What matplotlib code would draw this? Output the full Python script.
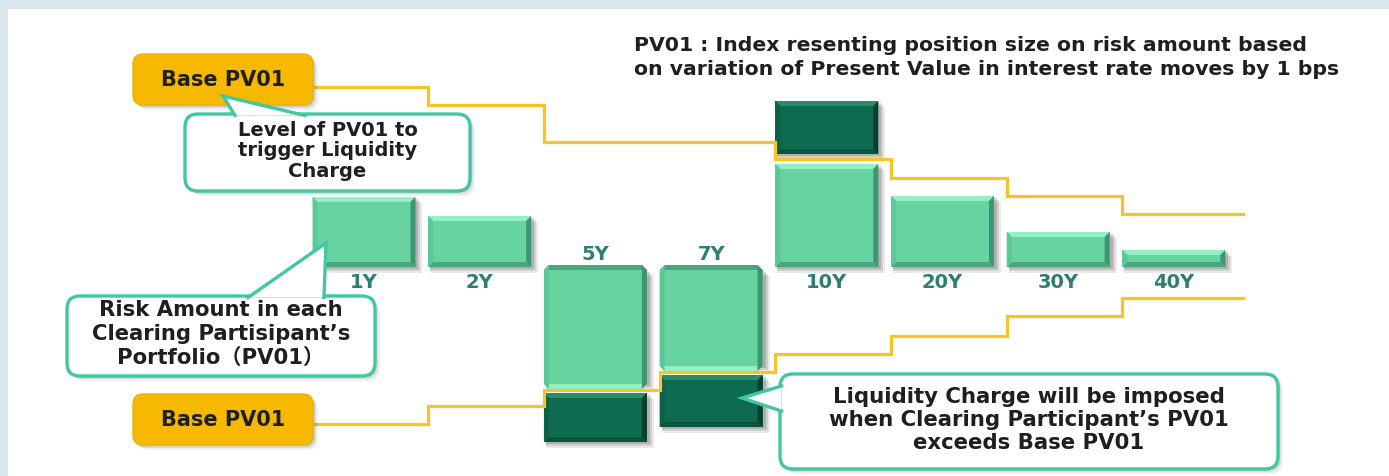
import numpy as np
import matplotlib
matplotlib.use("Agg")
import matplotlib.pyplot as plt
from matplotlib.patches import FancyBboxPatch, Polygon, Rectangle

# PV01 by tenor (units: chart px above the zero line)
tenors = ["1Y", "2Y", "5Y", "7Y", "10Y", "20Y", "30Y", "40Y"]
risk_pv01 = [70, 51, -175, -160, 166, 71, 35, 17]
base_upper = [180, 162, 125, 125, 108, 89, 71, 53]
base_lower = [-157, -139, -123, -105, -87, -69, -49, -31]

W, H = 1389, 477
STEP_PX = 115.7          # px between bar centres
X0_PX = 364              # px of first bar centre
ZERO_PX = 268            # px of the zero line
BAR_W = 0.89
PX = 1.0 / STEP_PX       # one pixel in x units

LIGHT = dict(face="#66d3a1", top="#93efc6", left="#5cc898", right="#3d9671", bottom="#4aa67e")
DARK = dict(face="#0e6b4f", top="#2b8c6b", left="#0c6247", right="#063f2c", bottom="#0a543d")
YELLOW = "#f7c325"
BOX_YEL = "#f7b800"
TEAL = "#3ec9a0"
TXT = "#1f1f1f"
FONTS = ["DejaVu Sans", "Noto Sans CJK JP"]

fig = plt.figure(figsize=(W / 100, H / 100), dpi=100)
fig.patch.set_facecolor("#dae6ed")
fig.add_artist(Rectangle((8 / W, 0), 1, (H - 10) / H, transform=fig.transFigure,
                         fc="white", ec="none", zorder=-1))

ax = fig.add_axes([0, 0, 1, 1])
ax.set_facecolor("none")
ax.set_xlim(-X0_PX / STEP_PX, (W - X0_PX) / STEP_PX)
ax.set_ylim(ZERO_PX - H, ZERO_PX)
ax.axis("off")

x = np.arange(len(tenors))


def bevel(xc, lo, hi, pal):
    x0, x1 = xc - BAR_W / 2, xc + BAR_W / 2
    b = 5
    bx = b * PX
    # soft shadow
    for k, a in [(6, 0.12), (4, 0.18), (2, 0.25)]:
        ax.add_patch(Rectangle((x0 + 2 * PX, lo - k), x1 - x0 + (k - 1) * PX, hi - lo,
                               fc="#555555", alpha=a, lw=0, zorder=1))
    ax.bar(xc, hi - lo, bottom=lo, width=BAR_W, color=pal["face"], lw=0, zorder=2)
    ax.add_patch(Polygon([(x0, hi), (x1, hi), (x1 - bx, hi - b), (x0 + bx, hi - b)],
                         fc=pal["top"], lw=0, zorder=3))
    ax.add_patch(Polygon([(x0, lo), (x1, lo), (x1 - bx, lo + b), (x0 + bx, lo + b)],
                         fc=pal["bottom"], lw=0, zorder=3))
    ax.add_patch(Polygon([(x0, lo), (x0 + bx, lo + b), (x0 + bx, hi - b), (x0, hi)],
                         fc=pal["left"], lw=0, zorder=3))
    ax.add_patch(Polygon([(x1, lo), (x1 - bx, lo + b), (x1 - bx, hi - b), (x1, hi)],
                         fc=pal["right"], lw=0, zorder=3))


for i, v in enumerate(risk_pv01):
    if v > 0:
        if v > base_upper[i]:
            bevel(x[i], 0, base_upper[i] - 5, LIGHT)
            bevel(x[i], base_upper[i] + 5, v, DARK)
        else:
            bevel(x[i], 0, v, LIGHT)
        ax.text(x[i], -15, tenors[i], ha="center", va="center", fontsize=14,
                fontweight="bold", color="#2f7f6f", zorder=4)
    else:
        if v < base_lower[i]:
            bevel(x[i], -3, base_lower[i] + 6, LIGHT)
            bevel(x[i], v, base_lower[i] - 3, DARK)
        else:
            bevel(x[i], -3, v, LIGHT)
        ax.text(x[i], 13, tenors[i], ha="center", va="center", fontsize=14,
                fontweight="bold", color="#2f7f6f", zorder=4)

# base PV01 step lines
edges = np.append(x - BAR_W / 2, x[-1] + BAR_W / 2 + 18 * PX)
ax.step(edges, np.append(base_upper, base_upper[-1]), where="post",
        color=YELLOW, lw=2.3, zorder=5, solid_joinstyle="miter")
ax.step(edges, np.append(base_lower, base_lower[-1]), where="post",
        color=YELLOW, lw=2.3, zorder=5, solid_joinstyle="miter")

# overlay in pixel coordinates for boxes and callouts
deco = fig.add_axes([0, 0, 1, 1])
deco.set_facecolor("none")
deco.set_xlim(0, W)
deco.set_ylim(H, 0)
deco.axis("off")


def shadowed_box(x0, y0, w, h, fc, ec, lw, r):
    for k, a in [(5, 0.10), (3, 0.15), (1.5, 0.2)]:
        deco.add_patch(FancyBboxPatch((x0 + k, y0 + k), w, h,
                                      boxstyle=f"round,pad=0,rounding_size={r}",
                                      fc="#666666", ec="none", alpha=a, zorder=1))
    deco.add_patch(FancyBboxPatch((x0, y0), w, h, boxstyle=f"round,pad=0,rounding_size={r}",
                                  fc=fc, ec=ec, lw=lw, zorder=2))


def callout(x0, y0, w, h, tip, b1, b2, text, fs, ls, ty=None):
    shadowed_box(x0, y0, w, h, "white", TEAL, 2.4, 13)
    deco.add_patch(Polygon([tip, b1, b2], closed=True, fc="white", ec="none", zorder=3))
    deco.plot([b1[0], tip[0], b2[0]], [b1[1], tip[1], b2[1]], color=TEAL, lw=2.4,
              zorder=4, solid_joinstyle="miter")
    deco.text(x0 + w / 2, ty if ty else y0 + h / 2, text, ha="center", va="center",
              fontsize=fs, fontweight="bold", color=TXT, linespacing=ls, zorder=5,
              family=FONTS)


# Base PV01 boxes
for by in (55, 395):
    shadowed_box(133, by, 180, 51, BOX_YEL, "#f0b000", 1, 10)
    deco.text(223, by + 25, "Base PV01", ha="center", va="center", fontsize=15,
              fontweight="bold", color=TXT, zorder=5)

callout(185, 115, 285, 77, (223, 97), (235, 116.5), (305, 116.5),
        "Level of PV01 to\ntrigger Liquidity\nCharge", 14, 1.12, ty=151)
callout(67, 297, 308, 80, (326, 244), (248, 298.5), (324, 298.5),
        "Risk Amount in each\nClearing Partisipant\u2019s\nPortfolio\uff08PV01\uff09", 15.2, 1.25, ty=334)
callout(780, 375, 498, 95, (742, 399), (781.5, 387), (781.5, 412),
        "Liquidity Charge will be imposed\nwhen Clearing Participant\u2019s PV01\nexceeds Base PV01",
        15.3, 1.18, ty=420)

deco.text(634, 57.5, "PV01 : Index resenting position size on risk amount based\n"
          "on variation of Present Value in interest rate moves by 1 bps",
          ha="left", va="center", fontsize=14.7, fontweight="bold", color=TXT,
          linespacing=1.33, zorder=5)

fig.savefig("out.png", dpi=100, facecolor=fig.get_facecolor())
